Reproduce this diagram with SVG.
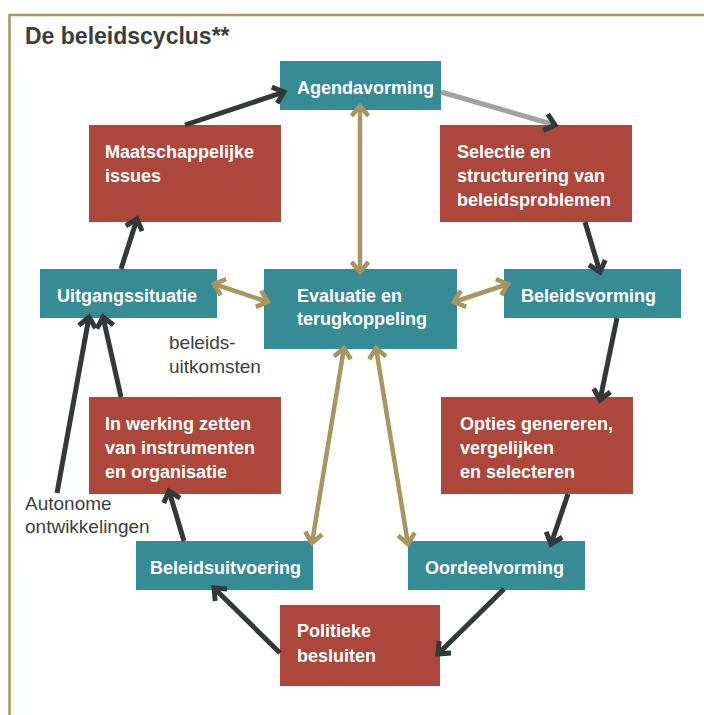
<svg xmlns="http://www.w3.org/2000/svg" width="704" height="715" viewBox="0 0 704 715">
<style>
.frame{stroke:#a8955f;stroke-width:2.5;fill:none}
.title{font-family:"Liberation Sans",Arial,sans-serif;font-weight:bold;font-size:23px;fill:#3a3d3d}
.teal{fill:#378b95}
.red{fill:#ad473b}
.lbl{font-family:"Liberation Sans",Arial,sans-serif;font-weight:bold;font-size:18px;fill:#ffffff}
.note{font-family:"Liberation Sans",Arial,sans-serif;font-size:19px;fill:#3c3f3f}
.dk{stroke:#333939;stroke-width:5;fill:none}
.gr{stroke:#a2a2a2;stroke-width:5;fill:none}
.gd{stroke:#a8955f;stroke-width:4.5;fill:none}
</style>
<defs>
<marker id="ad" markerUnits="userSpaceOnUse" viewBox="-16 -14 20 28" markerWidth="20" markerHeight="28" refX="0" refY="0" orient="auto-start-reverse" overflow="visible">
<path d="M-10,-8.5 L0,0 L-10,8.5" stroke="#333939" stroke-width="5" fill="none"/>
</marker>
<marker id="ag" markerUnits="userSpaceOnUse" viewBox="-16 -14 20 28" markerWidth="20" markerHeight="28" refX="0" refY="0" orient="auto-start-reverse" overflow="visible">
<path d="M-10,-8.5 L0,0 L-10,8.5" stroke="#a8955f" stroke-width="4.5" fill="none"/>
</marker>
</defs>
<rect width="704" height="715" fill="#ffffff"/>
<path class="frame" d="M9.5,715 L9.5,15 L704,15"/>
<text class="title" x="25" y="44">De beleidscyclus**</text>

<g id="nodes">
<g id="agendavorming"><rect class="teal" x="280" y="61" width="161" height="49"/><text class="lbl" x="297" y="94">Agendavorming</text></g>
<g id="maatschappelijke-issues"><rect class="red" x="89" y="125" width="192" height="97"/><text class="lbl" x="105" y="158">Maatschappelijke</text><text class="lbl" x="105" y="182">issues</text></g>
<g id="selectie"><rect class="red" x="440" y="125" width="192" height="97"/><text class="lbl" x="457" y="158">Selectie en</text><text class="lbl" x="457" y="182">structurering van</text><text class="lbl" x="457" y="206">beleidsproblemen</text></g>
<g id="uitgangssituatie"><rect class="teal" x="40" y="269" width="177" height="49"/><text class="lbl" x="57" y="302">Uitgangssituatie</text></g>
<g id="evaluatie"><rect class="teal" x="264" y="269" width="193" height="80"/><text class="lbl" x="297" y="302">Evaluatie en</text><text class="lbl" x="297" y="325">terugkoppeling</text></g>
<g id="beleidsvorming"><rect class="teal" x="504" y="269" width="177" height="49"/><text class="lbl" x="521" y="302">Beleidsvorming</text></g>
<g id="in-werking"><rect class="red" x="89" y="397" width="192" height="97"/><text class="lbl" x="105" y="430">In werking zetten</text><text class="lbl" x="105" y="454">van instrumenten</text><text class="lbl" x="105" y="478">en organisatie</text></g>
<g id="opties"><rect class="red" x="441" y="397" width="192" height="97"/><text class="lbl" x="460" y="430">Opties genereren,</text><text class="lbl" x="460" y="454">vergelijken</text><text class="lbl" x="460" y="478">en selecteren</text></g>
<g id="beleidsuitvoering"><rect class="teal" x="136" y="541" width="177" height="49"/><text class="lbl" x="150" y="574">Beleidsuitvoering</text></g>
<g id="oordeelvorming"><rect class="teal" x="408" y="541" width="177" height="49"/><text class="lbl" x="425" y="574">Oordeelvorming</text></g>
<g id="politieke-besluiten"><rect class="red" x="280" y="605" width="160" height="81"/><text class="lbl" x="297" y="637">Politieke</text><text class="lbl" x="297" y="662">besluiten</text></g>
<g id="beleidsuitkomsten"><text class="note" x="169" y="349">beleids-</text><text class="note" x="169" y="373">uitkomsten</text></g>
<g id="autonome"><text class="note" x="25" y="510">Autonome</text><text class="note" x="25" y="533">ontwikkelingen</text></g>
</g>

<g id="connectors">
<path class="dk" d="M185,125 L284,92" marker-end="url(#ad)"/>
<path class="gr" d="M441,92 L555,125" marker-end="url(#ad)"/>
<path class="dk" d="M585,222 L600,272" marker-end="url(#ad)"/>
<path class="dk" d="M617,318 L600,400" marker-end="url(#ad)"/>
<path class="dk" d="M568,494 L551,544" marker-end="url(#ad)"/>
<path class="dk" d="M504,589 L438,654" marker-end="url(#ad)"/>
<path class="dk" d="M280,653 L214,588" marker-end="url(#ad)"/>
<path class="dk" d="M184,541 L169,491" marker-end="url(#ad)"/>
<path class="dk" d="M121,397 L103,317" marker-end="url(#ad)"/>
<path class="dk" d="M57,493 L89,317" marker-end="url(#ad)"/>
<path class="dk" d="M121,269 L137,219" marker-end="url(#ad)"/>
<path class="gd" d="M360,106 L360,272" marker-start="url(#ag)" marker-end="url(#ag)"/>
<path class="gd" d="M214,284 L268,302" marker-start="url(#ag)" marker-end="url(#ag)"/>
<path class="gd" d="M454,302 L508,284" marker-start="url(#ag)" marker-end="url(#ag)"/>
<path class="gd" d="M344,348 L312,543" marker-start="url(#ag)" marker-end="url(#ag)"/>
<path class="gd" d="M376,348 L408,544" marker-start="url(#ag)" marker-end="url(#ag)"/>
</g>
</svg>
